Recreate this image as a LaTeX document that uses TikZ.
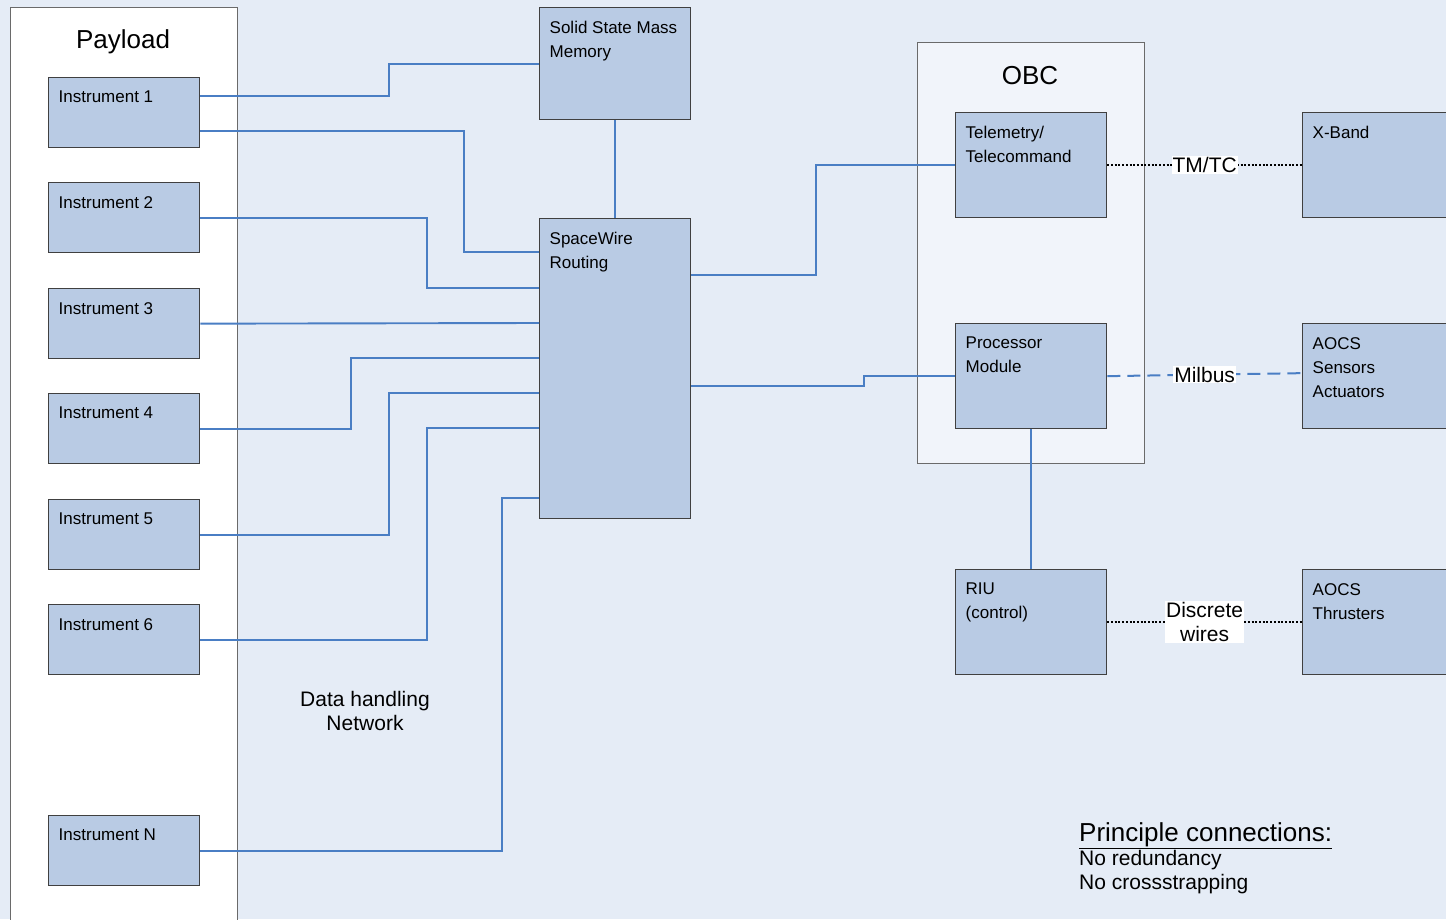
\documentclass[tikz,border=0pt]{standalone}
\usepackage{fontspec}
\setmainfont{Liberation Sans}
\usetikzlibrary{calc}
\definecolor{bg}{HTML}{E5ECF6}
\definecolor{boxfill}{HTML}{B9CBE4}
\definecolor{boxline}{HTML}{404040}
\definecolor{wireblue}{HTML}{4A7EC4}
\definecolor{obcfill}{HTML}{F1F4FA}
\definecolor{frameline}{HTML}{6A6A6A}
\begin{document}
\begin{tikzpicture}[x=1pt,y=-1pt,
  unit/.style={draw=boxline, fill=boxfill, line width=1.3pt, anchor=north west, inner sep=0pt, minimum width=151pt},
  lbl/.style={anchor=north west, inner sep=0pt, align=left, font=\fontsize{17}{24}\selectfont, xshift=10.5pt, yshift=-14pt},
  wire/.style={draw=wireblue, line width=1.9pt},
  dotwire/.style={draw=black, line width=1.4pt, dash pattern=on 2pt off 1.7pt},
  dashwire/.style={draw=wireblue, line width=2pt, dash pattern=on 13pt off 7pt},
  tag/.style={fill=white, inner sep=1pt, font=\fontsize{21}{24}\selectfont, align=center},
  frame/.style={draw=frameline, line width=1.3pt, anchor=north west, inner sep=0pt}]

\useasboundingbox (0,0) rectangle (1446,919);
\clip (0,0) rectangle (1446,919);
\fill[bg] (0,0) rectangle (1446,919);

% frames
\node[frame, fill=white, minimum width=227pt, minimum height=930pt] (payload) at (10,7) {};
\node[font=\fontsize{26}{30}\selectfont] (payloadt) at (123,42) {Payload};
\node[frame, fill=obcfill, minimum width=227pt, minimum height=421pt] (obc) at (917,42) {};
\node[font=\fontsize{26}{30}\selectfont] (obct) at (1030,76) {OBC};

% units
\node[unit, minimum height=70pt] (i1) at (48,77) {};
\node[unit, minimum height=70pt] (i2) at (48,182) {};
\node[unit, minimum height=70pt] (i3) at (48,288) {};
\node[unit, minimum height=70pt] (i4) at (48,393) {};
\node[unit, minimum height=70pt] (i5) at (48,499) {};
\node[unit, minimum height=70pt] (i6) at (48,604) {};
\node[unit, minimum height=70pt] (iN) at (48,815) {};
\node[unit, minimum height=112pt] (ssmm) at (539,7) {};
\node[unit, minimum height=300pt] (spw) at (539,218) {};
\node[unit, minimum height=105pt] (tm) at (955,112) {};
\node[unit, minimum height=105pt] (pm) at (955,323) {};
\node[unit, minimum height=105pt] (riu) at (955,569) {};
\node[unit, minimum height=105pt] (xb) at (1302,112) {};
\node[unit, minimum height=105pt] (as) at (1302,323) {};
\node[unit, minimum height=105pt] (at) at (1302,569) {};

% wires
\draw[wire] ([yshift=17pt]i1.east) -- ++(189,0) |- (ssmm.west);
\draw[wire] ([yshift=-18pt]i1.east) -- ++(264,0) |- ([yshift=-34pt]spw.north west);
\draw[wire] (i2.east) -- ++(227,0) |- ([yshift=-70pt]spw.north west);
\draw[wire] (i3.east) -- ([yshift=-105pt]spw.north west);
\draw[wire] (i4.east) -- ++(151,0) |- ([yshift=-140pt]spw.north west);
\draw[wire] (i5.east) -- ++(189,0) |- ([yshift=-175pt]spw.north west);
\draw[wire] (i6.east) -- ++(227,0) |- ([yshift=-210pt]spw.north west);
\draw[wire] (iN.east) -- ++(302,0) |- ([yshift=-280pt]spw.north west);
\draw[wire] (ssmm.south) -- (spw.north);
\draw[wire] ([yshift=-57pt]spw.north east) -- ++(125,0) |- (tm.west);
\draw[wire] ([yshift=-168pt]spw.north east) -- ++(173,0) |- (pm.west);
\draw[wire] (pm.south) -- (riu.north);
\draw[dotwire] (tm.east) -- node[tag] (tmtc) {TM/TC} (xb.west);
\draw[dashwire] (pm.east) -- node[tag] (milbus) {Milbus} ([yshift=3pt]as.west);
\draw[dotwire] (riu.east) -- node[tag] (discrete) {Discrete\\wires} (at.west);

% unit labels
\node[lbl] (i1t) at (i1.north west) {Instrument 1};
\node[lbl] (i2t) at (i2.north west) {Instrument 2};
\node[lbl] (i3t) at (i3.north west) {Instrument 3};
\node[lbl] (i4t) at (i4.north west) {Instrument 4};
\node[lbl] (i5t) at (i5.north west) {Instrument 5};
\node[lbl] (i6t) at (i6.north west) {Instrument 6};
\node[lbl] (iNt) at (iN.north west) {Instrument N};
\node[lbl] (ssmmt) at (ssmm.north west) {Solid State Mass\\Memory};
\node[lbl] (spwt) at (spw.north west) {SpaceWire\\Routing};
\node[lbl] (tmt) at (tm.north west) {Telemetry/\\Telecommand};
\node[lbl] (pmt) at (pm.north west) {Processor\\Module};
\node[lbl] (riut) at (riu.north west) {RIU\\(control)};
\node[lbl] (xbt) at (xb.north west) {X-Band};
\node[lbl] (ast) at (as.north west) {AOCS\\Sensors\\Actuators};
\node[lbl] (att) at (at.north west) {AOCS\\Thrusters};

% free texts
\node[align=center, font=\fontsize{21}{24}\selectfont] (dhn) at (365,711) {Data handling\\Network};
\node[anchor=north west, inner sep=0pt, align=left, font=\fontsize{21}{24}\selectfont] (note) at (1079,822)
  {{\fontsize{26}{26}\selectfont\underline{Principle connections:}}\\No redundancy\\No crossstrapping};
\end{tikzpicture}
\end{document}
